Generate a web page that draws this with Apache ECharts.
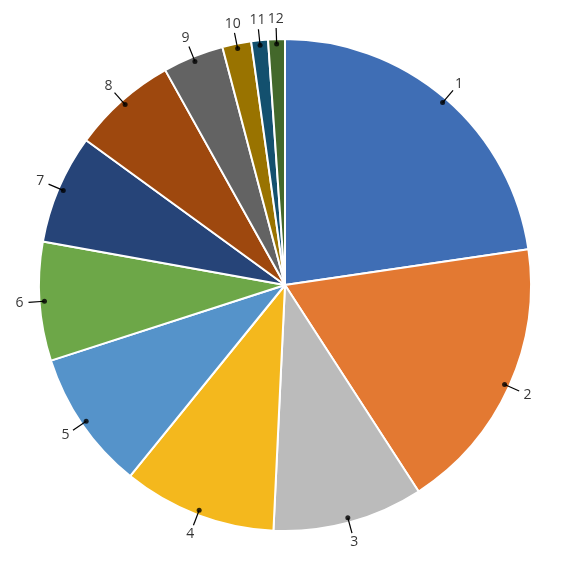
<!DOCTYPE html>
<html>
<head>
<meta charset="utf-8">
<script src="https://cdn.jsdelivr.net/npm/echarts@6/dist/echarts.min.js"></script>
<style>html,body{margin:0;padding:0;background:#fff}#c{width:570px;height:570px}</style>
</head>
<body>
<div id="c"></div>
<script>
const categories = ['1','2','3','4','5','6','7','8','9','10','11','12'];
const values = [22.7, 18.2, 9.9, 10.1, 9.2, 7.8, 7.2, 6.9, 4.0, 1.9, 1.1, 1.1];
const colors = ['#3F6EB5','#E37932','#BBBBBB','#F4B81D','#5593CA','#6DA748','#264478','#9E480E','#636363','#997300','#13506E','#43682B'];

const R = 246;            // pie radius in px
const EXT = 1.25;         // polar axis extends beyond pie
const total = values.reduce((a, b) => a + b, 0);
const mids = [];
let acc = 0;
values.forEach(v => { mids.push(acc + v / 2); acc += v; });

const series = [{
  type: 'pie',
  center: ['50%', '50%'],
  radius: R,
  startAngle: 90,
  clockwise: true,
  avoidLabelOverlap: false,
  label: { show: false },
  labelLine: { show: false },
  emphasis: { disabled: true },
  itemStyle: { borderColor: '#fff', borderWidth: 2 },
  data: categories.map((c, i) => ({ name: c, value: values[i], itemStyle: { color: colors[i] } })),
  z: 1
}];

categories.forEach((c, i) => {
  series.push({
    type: 'line',
    coordinateSystem: 'polar',
    data: [[0.98, mids[i]], [1.045, mids[i]]],
    symbol: 'none',
    clip: false,
    silent: true,
    lineStyle: { color: '#000', width: 1.2 },
    z: 5
  });
});

series.push({
  type: 'scatter',
  coordinateSystem: 'polar',
  clip: false,
  silent: true,
  symbolSize: 5,
  itemStyle: { color: '#000' },
  data: mids.map(m => [0.98, m]),
  z: 6
});

series.push({
  type: 'scatter',
  coordinateSystem: 'polar',
  clip: false,
  silent: true,
  symbolSize: 1,
  itemStyle: { color: 'rgba(0,0,0,0)' },
  label: {
    show: true,
    position: 'inside',
    formatter: p => categories[p.dataIndex],
    color: '#000',
    fontFamily: 'Open Sans',
    fontSize: 14
  },
  data: mids.map(m => [1.082, m]),
  z: 7
});

const chart = echarts.init(document.getElementById('c'), null, { renderer: 'canvas' });
chart.setOption({
  animation: false,
  backgroundColor: '#fff',
  polar: { center: ['50%', '50%'], radius: R * EXT },
  angleAxis: {
    type: 'value', min: 0, max: total, startAngle: 90, clockwise: true,
    show: false, axisLine: { show: false }, splitLine: { show: false }, axisLabel: { show: false }, axisTick: { show: false }
  },
  radiusAxis: {
    type: 'value', min: 0, max: EXT,
    show: false, axisLine: { show: false }, splitLine: { show: false }, axisLabel: { show: false }, axisTick: { show: false }
  },
  series: series
});
</script>
</body>
</html>
